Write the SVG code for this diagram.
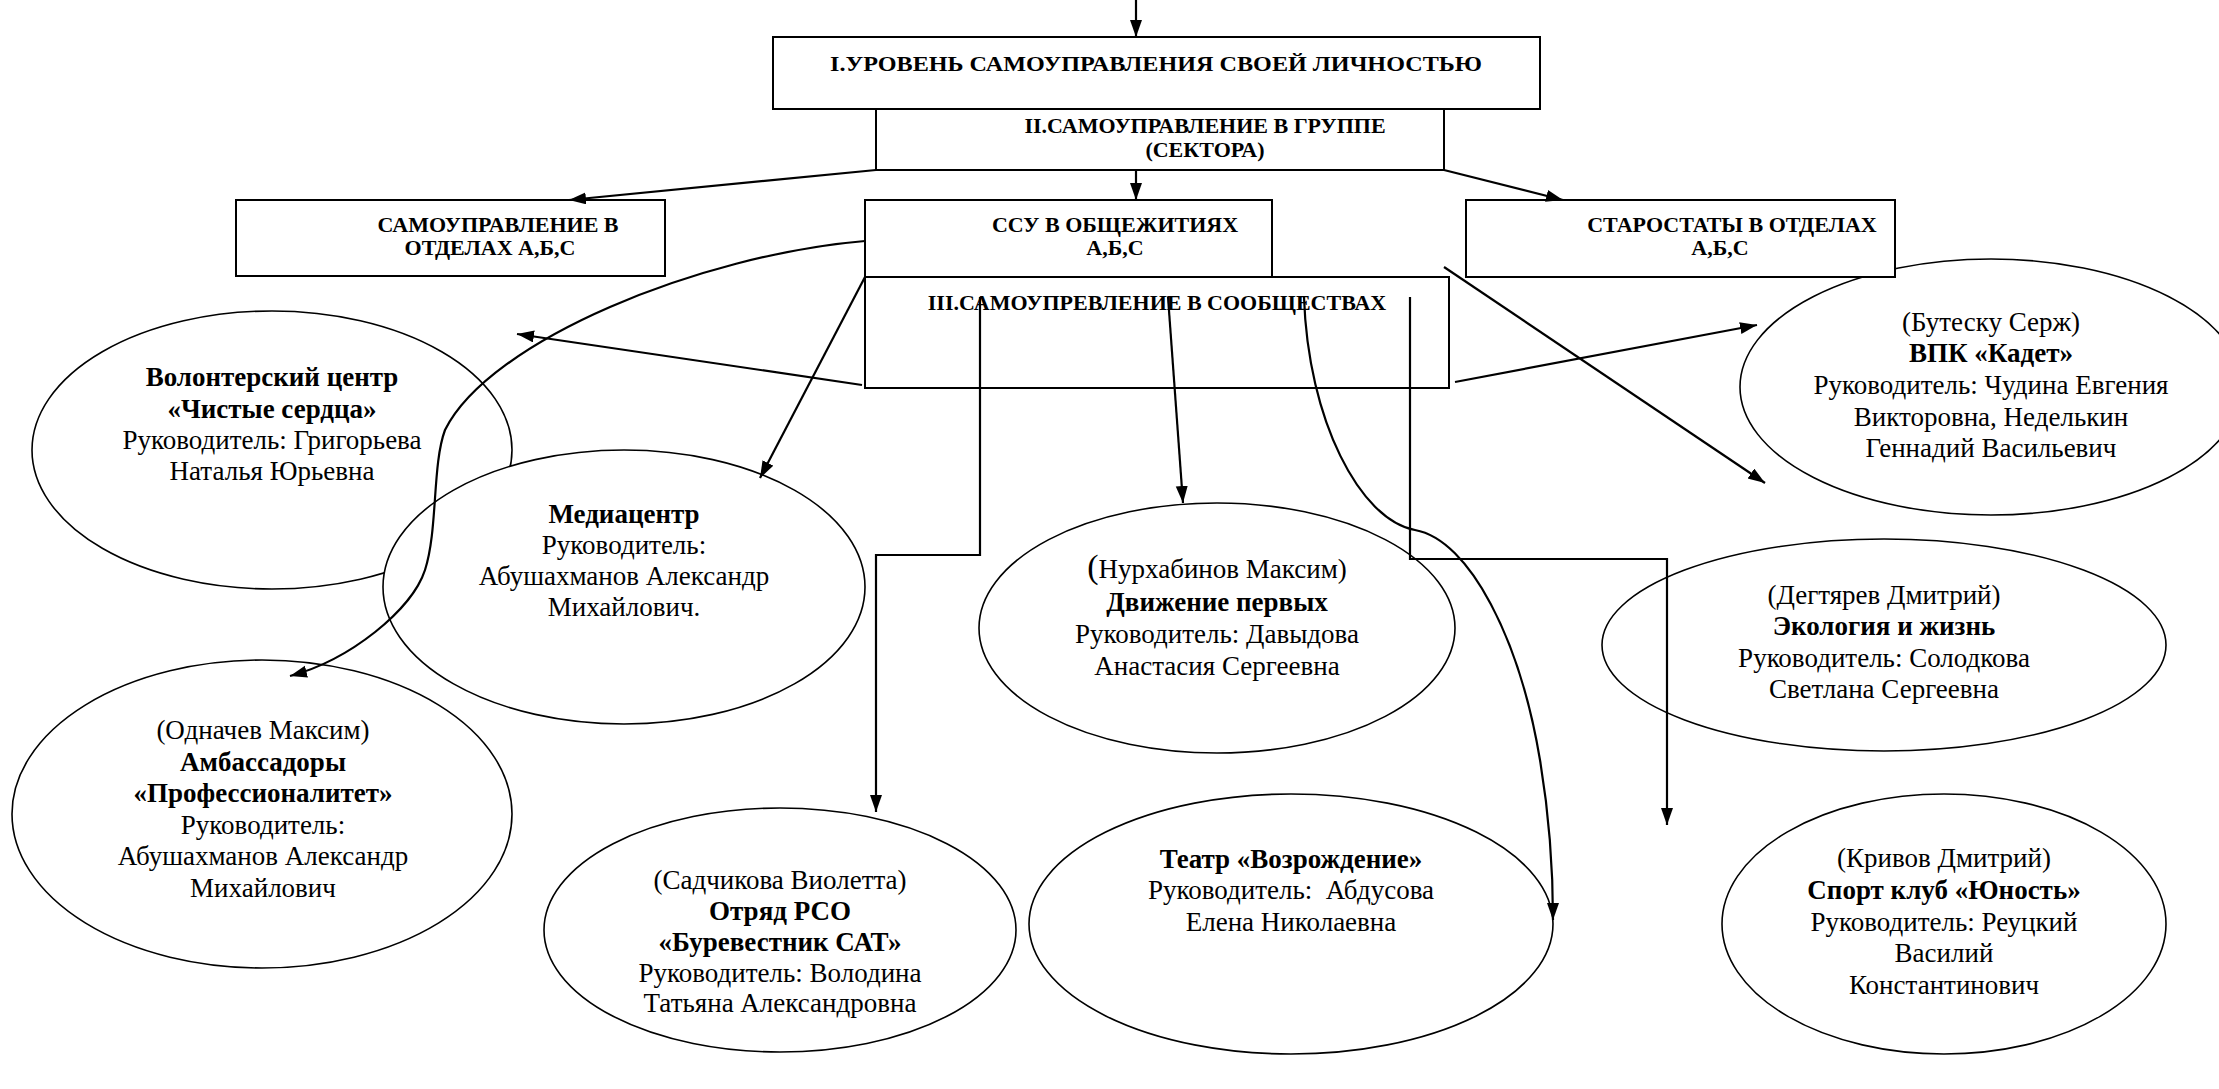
<svg xmlns="http://www.w3.org/2000/svg" width="2219" height="1089" viewBox="0 0 2219 1089">
<defs>
<marker id="ah" markerUnits="userSpaceOnUse" markerWidth="18" markerHeight="13" refX="17" refY="6" orient="auto">
<path d="M0,0 L17,6 L0,12 z" fill="#000"/>
</marker>
<style>
.box{fill:#fff;stroke:#000;stroke-width:2}
.ell{fill:#fff;stroke:#000;stroke-width:1.6}
.bt{font-weight:bold;font-size:22px;fill:#000}
.t{font-size:27px;fill:#000;text-anchor:middle}
.b{font-weight:bold}
.c{fill:none;stroke:#000;stroke-width:2.2}
.a{marker-end:url(#ah)}
</style>
</defs>
<rect width="2219" height="1089" fill="#fff"/>
<g font-family="'Liberation Serif', 'Times New Roman', serif">

<g id="n-vpk">
<ellipse class="ell" cx="1991" cy="387" rx="251" ry="128"/>
<text class="t" x="1991" y="331">(Бутеску Серж)</text>
<text class="t b" x="1991" y="362">ВПК «Кадет»</text>
<text class="t" x="1991" y="394">Руководитель: Чудина Евгения</text>
<text class="t" x="1991" y="426">Викторовна, Неделькин</text>
<text class="t" x="1991" y="457">Геннадий Васильевич</text>
</g>

<g id="n-volonter">
<ellipse class="ell" cx="272" cy="450" rx="240" ry="139"/>
<text class="t b" x="272" y="386">Волонтерский центр</text>
<text class="t b" x="272" y="418">«Чистые сердца»</text>
<text class="t" x="272" y="449">Руководитель: Григорьева</text>
<text class="t" x="272" y="480">Наталья Юрьевна</text>
</g>

<g id="n-odnachev">
<ellipse class="ell" cx="262" cy="814" rx="250" ry="154"/>
<text class="t" x="263" y="739">(Одначев Максим)</text>
<text class="t b" x="263" y="771">Амбассадоры</text>
<text class="t b" x="263" y="802">«Профессионалитет»</text>
<text class="t" x="263" y="834">Руководитель:</text>
<text class="t" x="263" y="865">Абушахманов Александр</text>
<text class="t" x="263" y="897">Михайлович</text>
</g>

<g id="n-media">
<ellipse class="ell" cx="624" cy="587" rx="241" ry="137"/>
<text class="t b" x="624" y="523">Медиацентр</text>
<text class="t" x="624" y="554">Руководитель:</text>
<text class="t" x="624" y="585">Абушахманов Александр</text>
<text class="t" x="624" y="616">Михайлович.</text>
</g>

<g id="n-sadchikova">
<ellipse class="ell" cx="780" cy="930" rx="236" ry="122"/>
<text class="t" x="780" y="889">(Садчикова Виолетта)</text>
<text class="t b" x="780" y="920">Отряд РСО</text>
<text class="t b" x="780" y="951">«Буревестник САТ»</text>
<text class="t" x="780" y="982">Руководитель: Володина</text>
<text class="t" x="780" y="1012">Татьяна Александровна</text>
</g>

<g id="n-nurkhabinov">
<ellipse class="ell" cx="1217" cy="628" rx="238" ry="125"/>
<text class="t" x="1217" y="578"><tspan font-size="34">(</tspan>Нурхабинов Максим)</text>
<text class="t b" x="1217" y="611" font-size="25">Движение первых</text>
<text class="t" x="1217" y="643">Руководитель: Давыдова</text>
<text class="t" x="1217" y="675">Анастасия Сергеевна</text>
</g>

<g id="n-teatr">
<ellipse class="ell" cx="1291" cy="924" rx="262" ry="130"/>
<text class="t b" x="1291" y="868">Театр «Возрождение»</text>
<text class="t" x="1291" y="899">Руководитель:&#160; Абдусова</text>
<text class="t" x="1291" y="931">Елена Николаевна</text>
</g>

<g id="n-degtyarev">
<ellipse class="ell" cx="1884" cy="645" rx="282" ry="106"/>
<text class="t" x="1884" y="604">(Дегтярев Дмитрий)</text>
<text class="t b" x="1884" y="635">Экология и жизнь</text>
<text class="t" x="1884" y="667">Руководитель: Солодкова</text>
<text class="t" x="1884" y="698">Светлана Сергеевна</text>
</g>

<g id="n-krivov">
<ellipse class="ell" cx="1944" cy="924" rx="222" ry="130"/>
<text class="t" x="1944" y="867">(Кривов Дмитрий)</text>
<text class="t b" x="1944" y="899">Спорт клуб «Юность»</text>
<text class="t" x="1944" y="931">Руководитель: Реуцкий</text>
<text class="t" x="1944" y="962">Василий</text>
<text class="t" x="1944" y="994">Константинович</text>
</g>

<g id="n-level1">
<rect class="box" x="773" y="37" width="767" height="72"/>
<text class="bt" x="1156" y="71" font-size="27" text-anchor="middle" textLength="652" lengthAdjust="spacingAndGlyphs">I.УРОВЕНЬ САМОУПРАВЛЕНИЯ СВОЕЙ ЛИЧНОСТЬЮ</text>
</g>

<g id="n-level2">
<rect class="box" x="876" y="109" width="568" height="61"/>
<text class="bt" x="1205" y="133" text-anchor="middle">II.САМОУПРАВЛЕНИЕ В ГРУППЕ</text>
<text class="bt" x="1205" y="157" text-anchor="middle">(СЕКТОРА)</text>
</g>

<g id="n-otdely">
<rect class="box" x="236" y="200" width="429" height="76"/>
<text class="bt" x="498" y="232" text-anchor="middle">САМОУПРАВЛЕНИЕ В</text>
<text class="bt" x="490" y="255" text-anchor="middle">ОТДЕЛАХ А,Б,С</text>
</g>

<g id="n-ssu">
<rect class="box" x="865" y="200" width="407" height="77"/>
<text class="bt" x="1115" y="232" text-anchor="middle">ССУ В ОБЩЕЖИТИЯХ</text>
<text class="bt" x="1115" y="255" text-anchor="middle">А,Б,С</text>
</g>

<g id="n-starostaty">
<rect class="box" x="1466" y="200" width="429" height="77"/>
<text class="bt" x="1732" y="232" text-anchor="middle">СТАРОСТАТЫ В ОТДЕЛАХ</text>
<text class="bt" x="1720" y="255" text-anchor="middle">А,Б,С</text>
</g>

<g id="n-level3">
<rect class="box" x="865" y="277" width="584" height="111"/>
<text class="bt" x="1157" y="310" text-anchor="middle">III.САМОУПРЕВЛЕНИЕ В СООБЩЕСТВАХ</text>
</g>
</g>

<g id="connectors">
<path class="c a" d="M1136,0 L1136,37"/>
<path class="c a" d="M876,170 L569,200"/>
<path class="c a" d="M1136,170 L1136,200"/>
<path class="c a" d="M1444,170 L1563,200"/>
<path class="c a" d="M865,241 C700,255 490,340 445,430 C432,465 438,530 425,570 C412,610 350,660 290,676"/>
<path class="c a" d="M862,385 L517,334"/>
<path class="c a" d="M865,277 L760,478"/>
<path class="c a" d="M980,297 L980,555 L876,555 L876,812"/>
<path class="c a" d="M1168,297 L1183,503"/>
<path class="c a" d="M1304,297 C1308,420 1360,520 1415,530 C1470,540 1520,640 1540,760 C1550,820 1553,880 1553,920"/>
<path class="c a" d="M1410,297 L1410,559 L1667,559 L1667,825"/>
<path class="c a" d="M1455,382 L1757,325"/>
<path class="c a" d="M1444,267 L1765,483"/>
</g>
</svg>
